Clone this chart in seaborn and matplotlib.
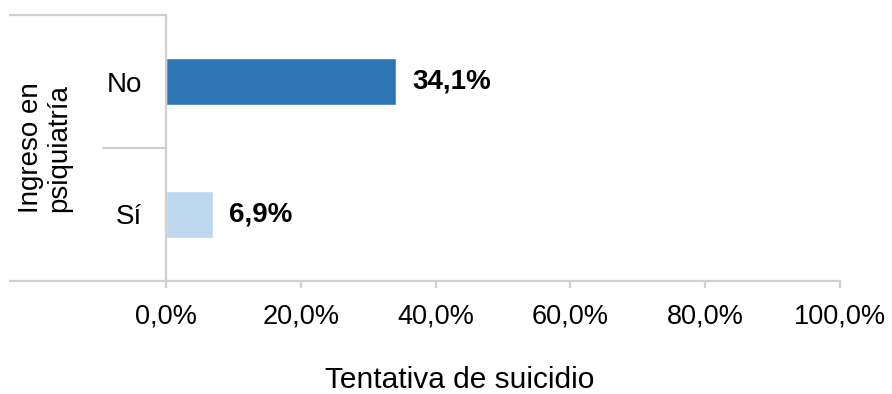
import matplotlib
matplotlib.use("Agg")
import matplotlib.pyplot as plt
import matplotlib.transforms as mtransforms
from matplotlib.lines import Line2D
import seaborn as sns
import pandas as pd

# Data
categories = ["No", "Sí"]
values = [34.1, 6.9]
bar_colors = ["#2E75B6", "#BDD7EE"]
x_ticks = [0, 20, 40, 60, 80, 100]
group_label = "Ingreso en\npsiquiatría"
x_title = "Tentativa de suicidio"

sns.set_theme(style="white")
plt.rcParams["font.family"] = ["Liberation Sans", "DejaVu Sans"]

df = pd.DataFrame({"cat": categories, "val": values})

fig = plt.figure(figsize=(8.92, 3.94), dpi=100)
ax = fig.add_axes([166 / 892, 1 - 281 / 394, 674 / 892, 266 / 394])

sns.barplot(data=df, x="val", y="cat", hue="cat", palette=bar_colors,
            orient="h", width=0.36, legend=False, ax=ax, saturation=1)

ax.set_xlim(0, 100)
ax.set_ylim(1.5, -0.5)
ax.set_xticks(x_ticks)
ax.set_xticklabels([f"{t:.1f}%".replace(".", ",") for t in x_ticks])
ax.set_xlabel("")
ax.set_ylabel("")

axis_color = "#D0D0D0"
for side in ["top", "right"]:
    ax.spines[side].set_visible(False)
for side in ["left", "bottom"]:
    ax.spines[side].set_color(axis_color)
    ax.spines[side].set_linewidth(1.6)

ax.tick_params(axis="x", direction="out", length=5, width=1.6, color=axis_color,
               labelsize=19.5, pad=11, labelcolor="#000000", bottom=True)
ax.tick_params(axis="y", length=0, labelsize=20, pad=17, labelcolor="#000000")

# value labels
for cont in ax.containers:
    vals = [b.get_width() for b in cont]
    ax.bar_label(cont, labels=[f"{v:.1f}%".replace(".", ",") for v in vals],
                 padding=12, fontsize=20, fontweight="bold", color="#000000")

# category dividers on the left
trans = mtransforms.blended_transform_factory(ax.transAxes, ax.transData)
x_outer = (10 - 166) / 674
x_inner = (103 - 166) / 674
for y, x0 in [(-0.5, x_outer), (0.5, x_inner), (1.5, x_outer)]:
    ax.add_line(Line2D([x0, 0], [y, y], transform=trans, color=axis_color,
                       linewidth=1.6, clip_on=False))

# group label
ax.text((45 - 166) / 674, 0.5, group_label, transform=trans, rotation=90,
        ha="center", va="center", multialignment="center", fontsize=20,
        color="#000000", linespacing=1.15)

fig.text(460 / 892, 1 - 388 / 394, x_title, ha="center", va="baseline",
         fontsize=21.5, color="#000000")

fig.savefig("out.png", dpi=100)
